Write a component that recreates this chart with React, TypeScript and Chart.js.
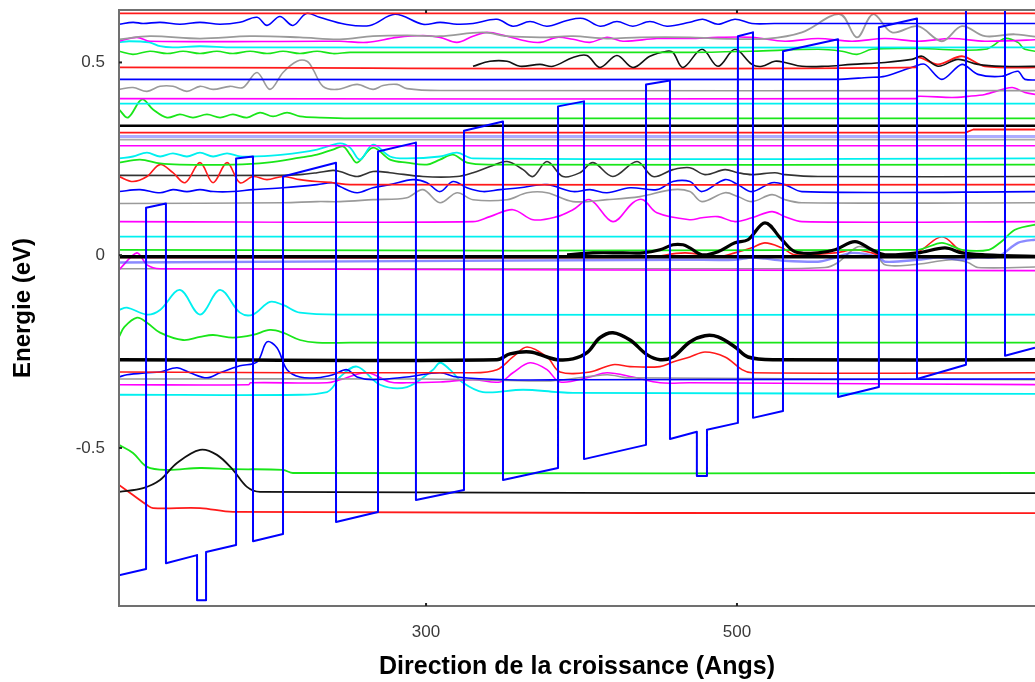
import React, { useEffect, useRef } from "react";
import { Chart, registerables } from "chart.js";

Chart.register(...registerables);

// Axis range (Angstrom / eV)
const xRange = [102.5, 691.7];
const yRange = [-0.91, 0.636];
const xLabelled = [300, 500];
const yLabelled = [0.5, 0, -0.5];

// Conduction band profile
const bandProfile = [
  [102.5, -0.83], [119.9, -0.814], [119.9, 0.123], [132.7, 0.134], [132.7, -0.799],
  [152.7, -0.778], [152.7, -0.895], [158.5, -0.895], [158.5, -0.77], [177.8, -0.752],
  [177.8, 0.251], [188.7, 0.256], [188.7, -0.742], [208, -0.723], [208, 0.204],
  [242.1, 0.24], [242.1, -0.692], [269.1, -0.666], [269.1, 0.269], [293.5, 0.292],
  [293.5, -0.635], [324.4, -0.609], [324.4, 0.323], [349.5, 0.347], [349.5, -0.583],
  [384.9, -0.552], [384.9, 0.386], [401.6, 0.399], [401.6, -0.529], [441.5, -0.492],
  [441.5, 0.443], [456.9, 0.453], [456.9, -0.477], [474.2, -0.458], [474.2, -0.573],
  [480.7, -0.573], [480.7, -0.453], [500.6, -0.435], [500.6, 0.568], [510.3, 0.578],
  [510.3, -0.422], [529.6, -0.404], [529.6, 0.529], [565, 0.56], [565, -0.368],
  [591.3, -0.342], [591.3, 0.591], [615.8, 0.614], [615.8, -0.321], [647.3, -0.284],
  [647.3, 0.68], [672.4, 0.7], [672.4, -0.261], [691.7, -0.24], [700, -0.236],
];

// Energy levels / wave functions
const redTop = [[102.5, 0.627], [700, 0.627]];
const blueWave60 = [
  [102.5, 0.599], [111.5, 0.604], [118, 0.601], [129, 0.604], [141.7, 0.599], [154.6, 0.604],
  [167.5, 0.599], [180.3, 0.604], [191.3, 0.617], [197.7, 0.596], [206, 0.619], [214.4, 0.596],
  [223, 0.627], [231.5, 0.617], [248, 0.599], [264, 0.596], [280, 0.625], [298, 0.599],
  [309, 0.604], [319.9, 0.599], [330.2, 0.601], [345.6, 0.612], [355.9, 0.594], [366.9, 0.606],
  [377.8, 0.594], [390.7, 0.609], [401, 0.614], [412, 0.594], [422.8, 0.606], [433, 0.594],
  [444, 0.606], [455, 0.594], [469.7, 0.604], [478, 0.612], [487.8, 0.599], [498.7, 0.612],
  [509.6, 0.601], [524, 0.601], [700, 0.601],
];
const greyWave56 = [
  [102.5, 0.56], [122.4, 0.568], [154.6, 0.562], [186.8, 0.568], [218.9, 0.565], [244.6, 0.56],
  [265.9, 0.568], [287.7, 0.57], [309, 0.568], [336.6, 0.578], [352.1, 0.568], [373.3, 0.565],
  [394.5, 0.568], [416.4, 0.562], [437.6, 0.565], [469.7, 0.565], [487.8, 0.562], [519.9, 0.562],
  [541.8, 0.578], [566.2, 0.625], [577.2, 0.565], [587.5, 0.625], [599.7, 0.578], [616.4, 0.594],
  [631.8, 0.555], [644.7, 0.594], [659.5, 0.568], [678.8, 0.573], [700, 0.562],
];
const magentaWave55 = [
  [102.5, 0.555], [114, 0.565], [122.4, 0.555], [244.6, 0.555], [262, 0.552], [281.3, 0.565],
  [298, 0.57], [309, 0.565], [319.9, 0.552], [330.2, 0.568], [339.2, 0.578], [352.1, 0.568],
  [365, 0.555], [373.3, 0.552], [384.2, 0.565], [394.5, 0.56], [405.4, 0.552], [416.4, 0.565],
  [426.7, 0.555], [448.5, 0.562], [469.7, 0.562], [487.8, 0.565], [509.6, 0.565], [530.9, 0.555],
  [552.1, 0.562], [574, 0.555], [595.2, 0.562], [616.4, 0.555], [638.3, 0.562], [659.5, 0.555],
  [700, 0.56],
];
const cyanWave54 = [
  [102.5, 0.552], [109, 0.555], [122, 0.552], [128.9, 0.542], [137, 0.539], [154.6, 0.542],
  [176, 0.539], [700, 0.539],
];
const greenWave53 = [
  [102.5, 0.529], [111.5, 0.521], [122.4, 0.529], [133.4, 0.523], [143.7, 0.529], [154.6, 0.523],
  [165.5, 0.529], [175.8, 0.523], [186.8, 0.529], [197.7, 0.523], [208, 0.529], [218.9, 0.523],
  [229.9, 0.529], [240.1, 0.523], [251.1, 0.526], [469.7, 0.526], [509.6, 0.529], [552.1, 0.534],
  [567.5, 0.529], [577.2, 0.521], [586.8, 0.534], [616.4, 0.536], [659.5, 0.534], [672.4, 0.562],
  [680.7, 0.552], [685.2, 0.534], [700, 0.526],
];
const redLevel49 = [
  [102.5, 0.487], [615, 0.487], [616.4, 0.513], [629.3, 0.495], [644.7, 0.516], [659.5, 0.49],
  [700, 0.487],
];
const blackWave49 = [
  [330.2, 0.49], [341.1, 0.503], [352.1, 0.503], [360.4, 0.49], [373.3, 0.495], [381.7, 0.49],
  [394.5, 0.513], [403.5, 0.518], [411.9, 0.487], [422.8, 0.518], [433.1, 0.487], [444, 0.516],
  [455, 0.529], [458.8, 0.526], [465.3, 0.487], [477.5, 0.534], [487.8, 0.49], [498.7, 0.534],
  [509.6, 0.495], [516.1, 0.49], [524.4, 0.503], [530.9, 0.5], [541.8, 0.49], [556.6, 0.49],
  [574, 0.495], [595.2, 0.5], [612.5, 0.508], [619, 0.516], [629.3, 0.49], [642.1, 0.508],
  [655, 0.495], [670.4, 0.49], [700, 0.49],
];
const blueLevel46 = [
  [102.5, 0.456], [563, 0.456], [584.3, 0.461], [595.2, 0.464], [614.5, 0.49], [620.9, 0.495],
  [631.8, 0.456], [644.7, 0.495], [655, 0.469], [670.4, 0.464], [680.7, 0.477], [685.2, 0.456],
  [700, 0.456],
];
const greyWave43 = [
  [102.5, 0.43], [111.5, 0.435], [120.5, 0.425], [128.9, 0.438], [137.2, 0.438], [146.2, 0.425],
  [154.6, 0.438], [163, 0.43], [173.9, 0.438], [182.3, 0.435], [191.3, 0.474], [199.6, 0.43],
  [208, 0.474], [217, 0.503], [223.4, 0.503], [227.3, 0.482], [233.7, 0.438], [242.7, 0.43],
  [255.6, 0.443], [265.9, 0.43], [272.3, 0.44], [281.3, 0.443], [287.7, 0.432], [309, 0.427],
  [700, 0.427],
];
const magentaLevel41 = [
  [102.5, 0.406], [615, 0.406], [616.4, 0.412], [638.3, 0.409], [648.6, 0.412], [659.5, 0.417],
  [676.9, 0.435], [685.2, 0.422], [700, 0.412],
];
const cyanLevel39 = [[102.5, 0.393], [700, 0.393]];
const greenWave36 = [
  [102.5, 0.378], [108.3, 0.357], [117.3, 0.404], [124.4, 0.378], [133.4, 0.357], [141.7, 0.365],
  [150.1, 0.357], [159.1, 0.365], [167.5, 0.357], [175.8, 0.365], [184.8, 0.357], [193.2, 0.37],
  [201.6, 0.36], [210.6, 0.37], [218.9, 0.36], [231.8, 0.357], [251.1, 0.355], [700, 0.355],
];
const blackLevel34 = [[102.5, 0.336], [700, 0.336]];
const redLevel32 = [[102.5, 0.318], [647, 0.318], [652, 0.326], [700, 0.326]];
const blueLevel31 = [[102.5, 0.308], [700, 0.308]];
const greyLevel30 = [[102.5, 0.3], [700, 0.3]];
const magentaLevel28 = [[102.5, 0.284], [700, 0.284]];
const cyanWave25 = [
  [102.5, 0.251], [111.5, 0.256], [120.5, 0.266], [128.9, 0.256], [137.2, 0.264], [146.2, 0.256],
  [154.6, 0.266], [163, 0.256], [172, 0.264], [180.3, 0.256], [188.7, 0.256], [208, 0.261],
  [229.9, 0.274], [244.6, 0.29], [251.1, 0.279], [257.5, 0.248], [265.9, 0.287], [276.8, 0.256],
  [287.7, 0.251], [309, 0.256], [319.9, 0.266], [330.2, 0.251], [700, 0.251],
];
const greenWave24 = [
  [102.5, 0.24], [116, 0.248], [128.9, 0.238], [141.7, 0.235], [175.8, 0.235], [197.7, 0.24],
  [218.9, 0.253], [229.9, 0.261], [240.1, 0.274], [246.6, 0.282], [251.1, 0.261], [255.6, 0.24],
  [265.9, 0.279], [276.8, 0.248], [287.7, 0.24], [300.6, 0.235], [309, 0.248], [317.3, 0.261],
  [326.3, 0.24], [341.1, 0.235], [700, 0.235],
];
const redWave19 = [
  [102.5, 0.204], [111.5, 0.191], [120.5, 0.204], [128.9, 0.235], [137.2, 0.214], [145, 0.188],
  [154.6, 0.24], [163, 0.188], [172, 0.24], [180.3, 0.188], [188.7, 0.204], [197.7, 0.196],
  [208, 0.204], [218.9, 0.196], [229.9, 0.191], [240.1, 0.188], [251.1, 0.183], [700, 0.183],
];
const blackWave21 = [
  [102.5, 0.207], [206.1, 0.207], [218.9, 0.209], [229.9, 0.214], [240.1, 0.22], [244.6, 0.217],
  [255.6, 0.204], [265.9, 0.217], [276.8, 0.214], [298, 0.204], [319.9, 0.204], [330.2, 0.214],
  [341.1, 0.23], [352.1, 0.243], [362.4, 0.222], [368.8, 0.204], [377.8, 0.243], [388.1, 0.204],
  [399, 0.214], [407.4, 0.24], [420.2, 0.204], [435.7, 0.243], [446, 0.204], [458.8, 0.222],
  [469.7, 0.227], [479.4, 0.209], [492.3, 0.222], [500.6, 0.214], [509.6, 0.209], [524.4, 0.214],
  [530.9, 0.209], [552.1, 0.204], [700, 0.204],
];
const blueWave17 = [
  [102.5, 0.165], [116, 0.17], [128.9, 0.162], [137.2, 0.17], [146.2, 0.165], [154.6, 0.17],
  [163, 0.165], [175.8, 0.165], [188.7, 0.17], [208, 0.175], [229.9, 0.183], [240.1, 0.188],
  [244.6, 0.178], [255.6, 0.162], [265.9, 0.175], [276.8, 0.183], [291.6, 0.196], [300.6, 0.188],
  [309, 0.165], [317.3, 0.191], [326.3, 0.175], [336.6, 0.165], [347.6, 0.17], [360.4, 0.175],
  [377.8, 0.183], [394.5, 0.165], [405.4, 0.17], [416.4, 0.162], [431.2, 0.175], [448.5, 0.17],
  [458.8, 0.191], [469.7, 0.191], [477.5, 0.165], [492.3, 0.196], [500.6, 0.183], [509.6, 0.165],
  [522.5, 0.188], [530.9, 0.183], [541.8, 0.165], [700, 0.165],
];
const greyWave14 = [
  [102.5, 0.134], [208, 0.136], [229.9, 0.139], [244.6, 0.139], [265.9, 0.144], [287.7, 0.149],
  [298, 0.17], [309, 0.136], [319.9, 0.162], [330.2, 0.144], [352.1, 0.144], [365, 0.162],
  [377.8, 0.162], [394.5, 0.139], [416.4, 0.144], [437.6, 0.152], [458.8, 0.17], [469.7, 0.165],
  [477.5, 0.139], [492.3, 0.162], [500.6, 0.152], [509.6, 0.139], [522.5, 0.157], [530.9, 0.144],
  [541.8, 0.136], [700, 0.136],
];
const magentaWave09 = [
  [102.5, 0.087], [330.2, 0.087], [341.1, 0.1], [355.9, 0.118], [368.8, 0.092], [384.2, 0.1],
  [394.5, 0.118], [405.4, 0.144], [420.2, 0.087], [433.1, 0.136], [439.5, 0.144], [448.5, 0.11],
  [469.7, 0.092], [477.5, 0.097], [487.8, 0.1], [498.7, 0.087], [509.6, 0.097], [522.5, 0.113],
  [530.9, 0.1], [541.8, 0.087], [700, 0.087],
];
const cyanLevel05 = [[102.5, 0.048], [700, 0.048]];
const greenLevel01 = [
  [102.5, 0.014], [616, 0.014], [631.8, 0.032], [644.7, 0.014], [662, 0.014], [670, 0.035],
  [678.8, 0.066], [691.7, 0.079], [700, 0.08],
];
const blackLevel0 = [[102.5, -0.004], [700, -0.004]];
const blackWave0 = [
  [390.7, 0.001], [407.4, 0.006], [426.7, 0.006], [439.5, 0.006], [450.5, 0.014], [458.8, 0.027],
  [465.3, 0.027], [469.7, 0.019], [477.5, 0.001], [487.8, 0.009], [498.7, 0.032], [507.1, 0.04],
  [518, 0.084], [528.9, 0.04], [537.3, 0.009], [552.1, 0.006], [563.1, 0.014], [575.9, 0.035],
  [586.8, 0.014], [595.2, 0.001], [616.4, 0.006], [633.8, 0.019], [644.7, 0.006], [659.5, 0.001],
  [700, -0.004],
];
const redWave0 = [
  [102.5, -0.006], [440, -0.006], [466.5, 0.006], [487.8, -0.004], [498.7, 0.006], [509.6, 0.019],
  [518, 0.032], [528.9, 0.019], [537.3, 0.001], [563.1, 0.006], [575.9, 0.014], [586.8, 0.006],
  [595.2, -0.004], [616.4, 0.009], [631.8, 0.048], [644.7, 0.009], [659.5, -0.004], [700, -0.004],
];
const blueWave02 = [
  [102.5, -0.019], [466.5, -0.012], [498.7, -0.012], [509.6, -0.006], [518, -0.009], [528.9, -0.014],
  [552.1, -0.017], [561.1, -0.009], [574, 0.006], [590.7, -0.004], [595.2, -0.017], [616.4, -0.012],
  [629.3, -0.006], [644.7, -0.012], [653.1, -0.006], [667.9, -0.004], [680.7, 0.032], [691.7, 0.04],
  [700, 0.042],
];
const magentaWave04 = [[102.5, -0.038], [114, 0.006], [120.5, -0.025], [128.9, -0.035], [700, -0.04]];
const greyWave03 = [
  [102.5, -0.035], [505.1, -0.035], [556.6, -0.032], [565, -0.019], [577.8, 0.022], [588.7, 0.006],
  [595.2, -0.025], [612.5, -0.025], [638.3, -0.012], [648.6, -0.019], [655, -0.032], [700, -0.03],
];
const cyanWave15 = [
  [102.5, -0.142], [107.6, -0.136], [120.5, -0.154], [128.9, -0.142], [141.7, -0.09], [154.6, -0.154],
  [167.5, -0.09], [180.3, -0.149], [188.7, -0.154], [199.6, -0.121], [208, -0.129], [218.9, -0.149],
  [251.1, -0.154], [700, -0.154],
];
const greenWave22 = [
  [102.5, -0.212], [106, -0.186], [114.1, -0.162], [120.5, -0.175], [128.9, -0.201], [143.7, -0.22],
  [154.6, -0.212], [163, -0.207], [175.8, -0.214], [188.7, -0.207], [199.6, -0.194], [208, -0.201],
  [218.9, -0.22], [229.9, -0.227], [251.1, -0.227], [700, -0.227],
];
const blackWave27 = [
  [102.5, -0.271], [345.6, -0.271], [354, -0.256], [366.9, -0.251], [377.8, -0.264], [384.2, -0.271],
  [394.5, -0.269], [403.5, -0.253], [411.9, -0.214], [420.2, -0.201], [431.2, -0.22], [442.1, -0.258],
  [450.5, -0.271], [458.8, -0.264], [469.7, -0.225], [479.4, -0.209], [487.8, -0.212], [498.7, -0.238],
  [507.1, -0.264], [524.4, -0.271], [700, -0.271],
];
const redWave30 = [
  [102.5, -0.303], [330.2, -0.305], [345.6, -0.297], [355.9, -0.264], [365, -0.238], [377.8, -0.264],
  [386.2, -0.303], [405.4, -0.303], [420.2, -0.284], [431.2, -0.289], [450.5, -0.289], [458.8, -0.277],
  [469.7, -0.264], [479.4, -0.251], [492.3, -0.264], [503.2, -0.297], [509.6, -0.305], [700, -0.305],
];
const blueWave32 = [
  [102.5, -0.316], [107.6, -0.31], [120.5, -0.305], [128.9, -0.303], [139.8, -0.292], [148.2, -0.305],
  [159.1, -0.318], [167.5, -0.305], [180.3, -0.287], [191.3, -0.277], [197.7, -0.225], [204.1, -0.24],
  [210.6, -0.297], [218.9, -0.316], [229.9, -0.318], [240.1, -0.31], [249.1, -0.297], [255.6, -0.316],
  [265.9, -0.323], [287.7, -0.316], [309, -0.305], [319.9, -0.316], [352.1, -0.323], [394.5, -0.323],
  [700, -0.321],
];
const greyLevel32 = [
  [102.5, -0.321], [300, -0.321], [330, -0.323], [380, -0.326], [416.4, -0.31], [430, -0.318],
  [700, -0.323],
];
const magentaWave34 = [
  [102.5, -0.336], [186, -0.336], [187, -0.331], [236.3, -0.331], [244.6, -0.323], [262, -0.305],
  [276.8, -0.329], [287.7, -0.331], [309, -0.329], [330.2, -0.323], [347.6, -0.329], [355.9, -0.305],
  [366.9, -0.279], [377.8, -0.297], [386.2, -0.329], [405.4, -0.316], [416.4, -0.305], [433.1, -0.316],
  [450.5, -0.331], [469.7, -0.331], [700, -0.336],
];
const cyanWave36 = [
  [102.5, -0.362], [218.9, -0.362], [236.3, -0.355], [240.1, -0.342], [244.6, -0.316], [255.6, -0.289],
  [270.4, -0.336], [287.7, -0.342], [304.5, -0.297], [309, -0.279], [315.4, -0.297], [323.8, -0.331],
  [336.6, -0.355], [362.4, -0.349], [384.2, -0.355], [394.5, -0.357], [700, -0.36],
];
const greenLevel56 = [
  [102.5, -0.492], [111.5, -0.513], [120.5, -0.549], [133.4, -0.557], [154.6, -0.552], [175.8, -0.555],
  [208, -0.557], [214.4, -0.565], [700, -0.565],
];
const blackWave62 = [
  [102.5, -0.614], [118, -0.604], [128.9, -0.583], [139.8, -0.539], [154.6, -0.505], [165.5, -0.518],
  [175.8, -0.557], [184.8, -0.601], [193.2, -0.614], [700, -0.617],
];
const redLevel67 = [
  [102.5, -0.596], [111.5, -0.622], [120.5, -0.648], [124.4, -0.656], [154.6, -0.656], [175.8, -0.666],
  [700, -0.669],
];

const RED = "#ff1a1a";
const BLUE = "#0000ff";
const GREEN = "#19e619";
const CYAN = "#00f0f0";
const MAGENTA = "#ff00ff";
const GREY = "#9a9a9a";
const BLACK = "#000000";

// [data, colour, width, tension]
const seriesList: [number[][], string, number, number][] = [
  [bandProfile, BLUE, 2, 0],
  [blackLevel0, BLACK, 3.5, 0],
  [blackWave0, BLACK, 3.2, 0.35],
  [blackWave27, BLACK, 3.5, 0.35],
  [blackLevel34, BLACK, 2.5, 0],
  [blackWave62, "#111", 1.8, 0.35],
  [redTop, RED, 1.8, 0],
  [blueWave60, BLUE, 1.6, 0.35],
  [greyWave56, GREY, 1.8, 0.35],
  [magentaWave55, MAGENTA, 1.6, 0.35],
  [cyanWave54, CYAN, 1.8, 0.35],
  [greenWave53, GREEN, 1.6, 0.35],
  [blackWave49, "#111", 1.6, 0.35],
  [redLevel49, RED, 1.8, 0.3],
  [blueLevel46, BLUE, 1.6, 0.3],
  [greyWave43, GREY, 1.6, 0.35],
  [magentaLevel41, MAGENTA, 1.6, 0.3],
  [cyanLevel39, CYAN, 1.8, 0],
  [greenWave36, GREEN, 1.8, 0.35],
  [redLevel32, RED, 1.8, 0],
  [blueLevel31, "rgba(70,70,255,0.45)", 3, 0],
  [greyLevel30, "#aaaaaa", 1.8, 0],
  [magentaLevel28, MAGENTA, 1.6, 0],
  [cyanWave25, CYAN, 1.8, 0.35],
  [greenWave24, GREEN, 1.8, 0.35],
  [redWave19, RED, 1.6, 0.35],
  [blackWave21, "#333", 1.6, 0.35],
  [blueWave17, BLUE, 1.6, 0.35],
  [greyWave14, GREY, 1.6, 0.35],
  [magentaWave09, MAGENTA, 1.6, 0.35],
  [cyanLevel05, CYAN, 1.8, 0],
  [greenLevel01, GREEN, 1.8, 0.3],
  [redWave0, RED, 1.6, 0.35],
  [blueWave02, "rgba(60,60,255,0.6)", 2.4, 0.3],
  [magentaWave04, MAGENTA, 1.6, 0.3],
  [greyWave03, GREY, 1.6, 0.3],
  [cyanWave15, CYAN, 1.8, 0.35],
  [greenWave22, GREEN, 1.8, 0.35],
  [redWave30, RED, 1.6, 0.35],
  [blueWave32, BLUE, 1.6, 0.35],
  [greyLevel32, GREY, 1.6, 0.3],
  [magentaWave34, MAGENTA, 1.6, 0.35],
  [cyanWave36, CYAN, 1.8, 0.35],
  [greenLevel56, GREEN, 1.8, 0.35],
  [redLevel67, RED, 1.8, 0.35],
];

const FONT = "'Liberation Sans', Arial, Helvetica, sans-serif";
const near = (a: number, b: number) => Math.abs(a - b) < 1e-6;

const framePlugin = {
  id: "frame",
  afterDatasetsDraw(chart: any) {
    const { ctx, chartArea: a, scales } = chart;
    const xs = scales.x;
    const ys = scales.y;
    ctx.save();
    ctx.strokeStyle = "#707070";
    ctx.lineWidth = 2;
    ctx.beginPath();
    ctx.moveTo(a.right + 5, a.top);
    ctx.lineTo(a.left, a.top);
    ctx.lineTo(a.left, a.bottom);
    ctx.lineTo(a.right + 5, a.bottom);
    ctx.stroke();
    ctx.fillStyle = "#222";
    xs.ticks.forEach((t: any) => {
      const px = xs.getPixelForValue(t.value);
      ctx.fillRect(px - 1, a.bottom - 3, 2, 3);
      ctx.fillRect(px - 1, a.top, 2, 3);
    });
    ys.ticks.forEach((t: any) => {
      const py = ys.getPixelForValue(t.value);
      ctx.fillRect(a.left, py - 1, 3, 2);
    });
    ctx.restore();
  },
};

export default function App() {
  const ref = useRef<HTMLCanvasElement>(null);
  useEffect(() => {
    if (!ref.current) return;
    const chart = new Chart(ref.current, {
      type: "line",
      data: {
        datasets: seriesList.map(([d, color, w, t]) => ({
          data: d.map(([x, y]) => ({ x, y })),
          borderColor: color,
          borderWidth: w,
          tension: t,
          pointRadius: 0,
          fill: false,
          borderJoinStyle: "round" as const,
        })),
      },
      options: {
        responsive: false,
        animation: false,
        layout: { padding: { top: 10, left: 0, right: 0, bottom: 0 } },
        plugins: { legend: { display: false }, tooltip: { enabled: false } },
        scales: {
          x: {
            type: "linear",
            min: xRange[0],
            max: xRange[1],
            grid: { display: false, tickLength: 0, drawTicks: false },
            border: { display: false },
            ticks: {
              stepSize: 50,
              includeBounds: false,
              autoSkip: false,
              maxRotation: 0,
              padding: 16,
              color: "#3a3a3a",
              font: { family: FONT, size: 17 },
              callback: (v: any) => (xLabelled.some((l) => near(Number(v), l)) ? String(v) : null),
            },
            title: {
              display: true,
              text: "Direction de la croissance (Angs)",
              color: "#000",
              font: { family: FONT, size: 25, weight: "bold" },
              padding: { top: 0, bottom: 0 },
            },
            afterFit: (s: any) => {
              s.height = 76;
              s.paddingLeft = 0;
              s.paddingRight = 0;
            },
          },
          y: {
            type: "linear",
            min: yRange[0],
            max: yRange[1],
            grid: { display: false, tickLength: 0, drawTicks: false },
            border: { display: false },
            ticks: {
              stepSize: 0.1,
              includeBounds: false,
              padding: 14,
              color: "#3a3a3a",
              font: { family: FONT, size: 17 },
              callback: (v: any) => {
                const l = yLabelled.find((q) => near(Number(v), q));
                return l === undefined ? null : String(l);
              },
            },
            title: {
              display: true,
              text: "Energie (eV)",
              color: "#000",
              font: { family: FONT, size: 24, weight: "bold" },
              padding: { top: 9, bottom: 0 },
            },
            afterFit: (s: any) => {
              s.width = 119;
              s.paddingTop = 0;
              s.paddingBottom = 0;
            },
          },
        },
      },
      plugins: [framePlugin],
    });
    return () => chart.destroy();
  }, []);
  return (
    <div style={{ position: "absolute", left: 0, top: 0, width: 1035, height: 682, overflow: "hidden", background: "#fff" }}>
      <canvas ref={ref} width={1035} height={682} />
    </div>
  );
}
